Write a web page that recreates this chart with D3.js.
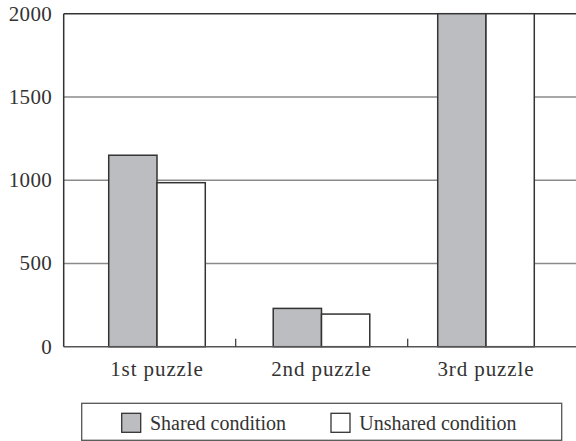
<!DOCTYPE html>
<html><head><meta charset="utf-8">
<script src="https://cdn.jsdelivr.net/npm/d3@7"></script>
<style>
html,body{margin:0;padding:0;background:#fff;}
svg{display:block;}
</style></head>
<body><svg id="c" width="576" height="441"></svg>
<script>
const categories = ["1st puzzle", "2nd puzzle", "3rd puzzle"];
const seriesNames = ["Shared condition", "Unshared condition"];
const shared = [1150, 230, 2000];
const unshared = [985, 196, 2000];
const yTicks = [0, 500, 1000, 1500, 2000];
const colors = ["#bcbdc1", "#ffffff"];

const FONT = "Liberation Serif";
const svg = d3.select("#c").attr("font-family", FONT);
const y = d3.scaleLinear().domain([0, 2000]).range([346.7, 13.7]);
// category frame (tick boundaries)
const xFrame = d3.scaleBand().domain(categories).range([63.7, 579.7]);
// bar group centers
const x = d3.scaleBand().domain(categories).range([74.75, 568.25]).paddingInner(0.413).paddingOuter(0.2065);
const xs = d3.scaleBand().domain(seriesNames).range([0, x.bandwidth()]);

// gridlines
svg.append("g").selectAll("line").data(yTicks.filter(d => d > 0 && d < 2000)).join("line")
  .attr("x1", 63.7).attr("x2", 576).attr("y1", d => y(d)).attr("y2", d => y(d))
  .attr("stroke", "#8a8a8a").attr("stroke-width", 1.5);
// top line
svg.append("line").attr("x1", 63.7).attr("x2", 576).attr("y1", y(2000)).attr("y2", y(2000))
  .attr("stroke", "#333").attr("stroke-width", 1.5);

// bars
const data = categories.map((c, i) => ({c, vals: [shared[i], unshared[i]]}));
const g = svg.append("g").selectAll("g").data(data).join("g")
  .attr("transform", d => `translate(${x(d.c)},0)`);
g.selectAll("rect").data(d => d.vals.map((v, j) => ({v, s: seriesNames[j], j}))).join("rect")
  .attr("x", d => xs(d.s)).attr("width", xs.bandwidth())
  .attr("y", d => y(d.v)).attr("height", d => y(0) - y(d.v))
  .attr("fill", d => colors[d.j]).attr("stroke", "#333").attr("stroke-width", 1.5);

// bottom axis
svg.append("line").attr("x1", 63.7).attr("x2", 576).attr("y1", y(0)).attr("y2", y(0))
  .attr("stroke", "#555").attr("stroke-width", 1.5);
svg.append("g").selectAll("line").data(categories.slice(1)).join("line")
  .attr("x1", d => xFrame(d)).attr("x2", d => xFrame(d))
  .attr("y1", y(0)).attr("y2", y(0) - 8)
  .attr("stroke", "#333").attr("stroke-width", 1.2);
// left axis
svg.append("line").attr("x1", 63.7).attr("x2", 63.7).attr("y1", y(2000)).attr("y2", y(0))
  .attr("stroke", "#333").attr("stroke-width", 1.5);

// y labels
svg.append("g").selectAll("text").data(yTicks).join("text")
  .attr("x", 52).attr("y", d => y(d)).attr("dy", "0.33em")
  .attr("text-anchor", "end").attr("font-size", 21).attr("letter-spacing", 0.3)
  .attr("fill", "#333").attr("font-family", FONT)
  .text(d => d);

// category labels
svg.append("g").selectAll("text").data(categories).join("text")
  .attr("x", d => x(d) + x.bandwidth() / 2).attr("y", 375.5)
  .attr("text-anchor", "middle").attr("font-size", 21).attr("letter-spacing", 0.9)
  .attr("fill", "#333").attr("font-family", FONT)
  .text(d => d);

// legend
svg.append("rect").attr("x", 81.7).attr("y", 403.3).attr("width", 480).attr("height", 37)
  .attr("fill", "#fff").attr("stroke", "#555").attr("stroke-width", 1.3);
const legX = [121.7, 331];
const lg = svg.append("g").selectAll("g").data(seriesNames).join("g")
  .attr("transform", (d, i) => `translate(${legX[i]},413.3)`);
lg.append("rect").attr("width", 19).attr("height", 19)
  .attr("fill", (d, i) => colors[i]).attr("stroke", "#333").attr("stroke-width", 1.3);
lg.append("text").attr("x", 28.3).attr("y", 16.5)
  .attr("font-size", 20).attr("fill", "#333").attr("font-family", FONT)
  .text(d => d);
</script></body></html>
